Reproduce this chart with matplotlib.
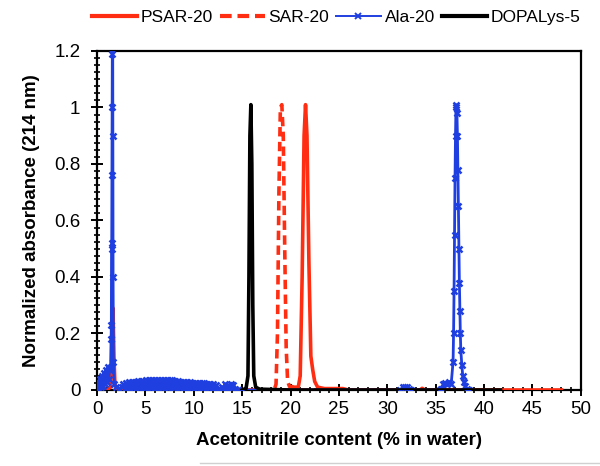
import matplotlib
matplotlib.use("Agg")
import matplotlib.pyplot as plt
from matplotlib.lines import Line2D
from matplotlib.ticker import MultipleLocator, FixedLocator, FixedFormatter

plt.rcParams['font.family'] = ['Liberation Sans', 'DejaVu Sans']

# ---------------- data ----------------
psar_x = [0, 0.5, 1.0, 1.4, 1.55, 1.65, 1.75, 1.85, 2.0, 2.3, 2.6,
          20.0, 20.4, 20.8, 21.0, 21.2, 21.4, 21.55, 21.7, 21.9, 22.1, 22.3,
          22.5, 22.8, 23.5, 25.4, 26.0, 35.0, 42.0, 48.0]
psar_y = [0, 0, 0, 0.01, 0.1, 0.29, 0.12, 0.02, 0.005, 0.003, 0,
          0, 0.01, 0.01, 0.05, 0.4, 0.9, 1.01, 0.9, 0.45, 0.12, 0.07,
          0.03, 0.01, 0.005, 0.005, 0, 0, 0, 0]

sar_x = [17.0, 18.3, 18.5, 18.65, 18.8, 18.95, 19.1, 19.25, 19.4, 19.55,
         19.7, 19.9, 20.2, 20.5, 30.0, 33.4, 33.6, 33.9, 42.0]
sar_y = [0, 0, 0.02, 0.2, 0.7, 1.0, 1.01, 0.9, 0.5, 0.15,
         0.03, 0.012, 0.012, 0, 0, 0, 0.006, 0, 0]

ala_x = [0.0, 0.1, 0.2, 0.3, 0.4, 0.5, 0.6, 0.7, 0.8, 0.9, 1.0, 1.1, 1.2, 1.3,
         1.4, 1.45, 1.48, 1.5, 1.52, 1.54, 1.56, 1.58, 1.62, 1.64, 1.66, 1.7,
         1.8, 2.0, 2.3, 2.55,
         2.7, 2.85, 3.0, 3.15, 3.3, 3.45, 3.6, 3.75, 3.9, 4.05, 4.2, 4.35,
         4.5, 4.65, 4.8, 4.95, 5.1, 5.25, 5.4, 5.55, 5.7, 5.85, 6.0, 6.15,
         6.3, 6.45, 6.6, 6.75, 6.9, 7.05, 7.2, 7.35, 7.5, 7.65, 7.8, 7.95,
         8.1, 8.25, 8.4, 8.55, 8.7, 8.85, 9.0, 9.15, 9.3, 9.45, 9.6, 9.75,
         9.9, 10.05, 10.2, 10.35, 10.5, 10.65, 10.8, 10.95, 11.1, 11.25,
         11.4, 11.55, 11.7, 11.85, 12.0, 12.15, 12.3,
         12.6, 12.9, 13.05, 13.2, 13.35, 13.5, 13.65, 13.8, 13.95, 14.1, 14.25, 14.6, 15.0,
         31.3, 31.6, 31.8, 32.0, 32.2, 32.4, 35.4, 35.6, 35.8, 36.0, 36.2, 36.4, 36.6,
         36.8, 36.85, 36.9, 36.95, 37.0, 37.05, 37.1, 37.15, 37.2, 37.25, 37.3,
         37.35, 37.4, 37.45, 37.5, 37.55, 37.6, 37.7, 37.8, 37.9, 38.0, 38.2, 38.4]
ala_y = [0.01, 0.03, 0.005, 0.04, 0.01, 0.05, 0.015, 0.06, 0.02, 0.07, 0.03, 0.08, 0.04, 0.07,
         0.08, 0.18, 0.23, 0.5, 0.52, 0.76, 1.0, 1.19, 1.25, 0.9, 0.4, 0.1,
         0.02, 0.01, 0.005, 0.01,
         0.02, 0.004, 0.025, 0.005, 0.027, 0.004, 0.028, 0.006, 0.03, 0.005, 0.031, 0.006,
         0.032, 0.005, 0.033, 0.006, 0.034, 0.005, 0.035, 0.006, 0.035, 0.005, 0.036, 0.006,
         0.036, 0.005, 0.037, 0.006, 0.037, 0.005, 0.036, 0.006, 0.035, 0.005, 0.034, 0.006,
         0.033, 0.005, 0.031, 0.006, 0.03, 0.005, 0.029, 0.006, 0.028, 0.005, 0.027, 0.006,
         0.026, 0.005, 0.025, 0.006, 0.024, 0.005, 0.024, 0.006, 0.023, 0.005,
         0.022, 0.006, 0.021, 0.005, 0.02, 0.005, 0.018,
         0.003, 0.012, 0.004, 0.02, 0.005, 0.019, 0.004, 0.02, 0.006, 0.016, 0.004, 0.0, 0.0,
         0.0, 0.01, 0.012, 0.01, 0.004, 0.0, 0.0, 0.005, 0.02, 0.025, 0.02, 0.03, 0.02,
         0.1, 0.2, 0.35, 0.55, 0.75, 0.9, 1.01, 1.0, 0.98, 0.9, 0.78,
         0.65, 0.5, 0.38, 0.28, 0.2, 0.14, 0.09, 0.05, 0.03, 0.015, 0.005, 0.0]

dopa_x = [15.0, 15.4, 15.6, 15.7, 15.8, 15.9, 16.0, 16.1, 16.2, 16.4, 16.8, 20.0, 30.0, 41.7]
dopa_y = [0, 0.005, 0.05, 0.4, 0.9, 1.01, 0.8, 0.3, 0.05, 0.01, 0.003, 0, 0, 0]

series_names = ['PSAR-20', 'SAR-20', 'Ala-20', 'DOPALys-5']
y_ticks = [0, 0.2, 0.4, 0.6, 0.8, 1.0, 1.2]
y_tick_labels = ['0', '0.2', '0.4', '0.6', '0.8', '1', '1.2']
x_ticks = [0, 5, 10, 15, 20, 25, 30, 35, 40, 45, 50]

RED = '#ff2d12'
BLUE = '#1f3fe0'
DASH = (0, (2.6, 1.5))

# ---------------- figure ----------------
fig = plt.figure(figsize=(6.0, 4.66), dpi=100)
ax = fig.add_axes([0.1617, 0.1631, 0.8063, 0.7275])

ax.plot(psar_x, psar_y, color=RED, lw=2.6, label=series_names[0], zorder=3)
ax.plot(sar_x, sar_y, color=RED, lw=2.6, ls=DASH, label=series_names[1], zorder=3)
ax.plot(ala_x, ala_y, color=BLUE, lw=2.0, marker='x', ms=4.5, mew=1.8,
        label=series_names[2], zorder=3)
ax.plot(dopa_x, dopa_y, color='black', lw=2.6, label=series_names[3], zorder=3)

ax.set_xlim(0, 50)
ax.set_ylim(0, 1.2)
ax.xaxis.set_major_locator(FixedLocator(x_ticks))
ax.xaxis.set_minor_locator(MultipleLocator(1))
ax.yaxis.set_major_locator(FixedLocator(y_ticks))
ax.yaxis.set_major_formatter(FixedFormatter(y_tick_labels))
ax.yaxis.set_minor_locator(MultipleLocator(0.025))

for s in ax.spines.values():
    s.set_linewidth(1.6)
    s.set_color('black')

ax.tick_params(which='major', direction='inout', length=8, width=1.4,
               labelsize=13.5, pad=4)
ax.tick_params(axis='y', which='major', pad=8)
ax.tick_params(which='minor', direction='inout', length=4, width=1.2)

ax.set_xlabel('Acetonitrile content (% in water)', fontsize=13.5,
              fontweight='bold', labelpad=10)
ax.set_ylabel('Normalized absorbance (214 nm)', fontsize=13.5,
              fontweight='bold', labelpad=10)

handles = [
    Line2D([], [], color=RED, lw=3.0),
    Line2D([], [], color=RED, lw=3.0, ls=(0, (2.8, 1.4))),
    Line2D([], [], color=BLUE, lw=1.4, marker='x', ms=4, mew=1.4),
    Line2D([], [], color='black', lw=3.0),
]
fig.legend(handles, series_names, loc='center', bbox_to_anchor=(0.56, 0.9635),
           ncol=4, frameon=False, fontsize=12.5, handlelength=2.6,
           handletextpad=0.2, columnspacing=0.4, borderaxespad=0)

fig.add_artist(Line2D([200 / 600, 1.0], [1 - 463 / 466, 1 - 463 / 466],
                      color='#d0d0d0', lw=1.0, transform=fig.transFigure))

fig.savefig('out.png', dpi=100)
